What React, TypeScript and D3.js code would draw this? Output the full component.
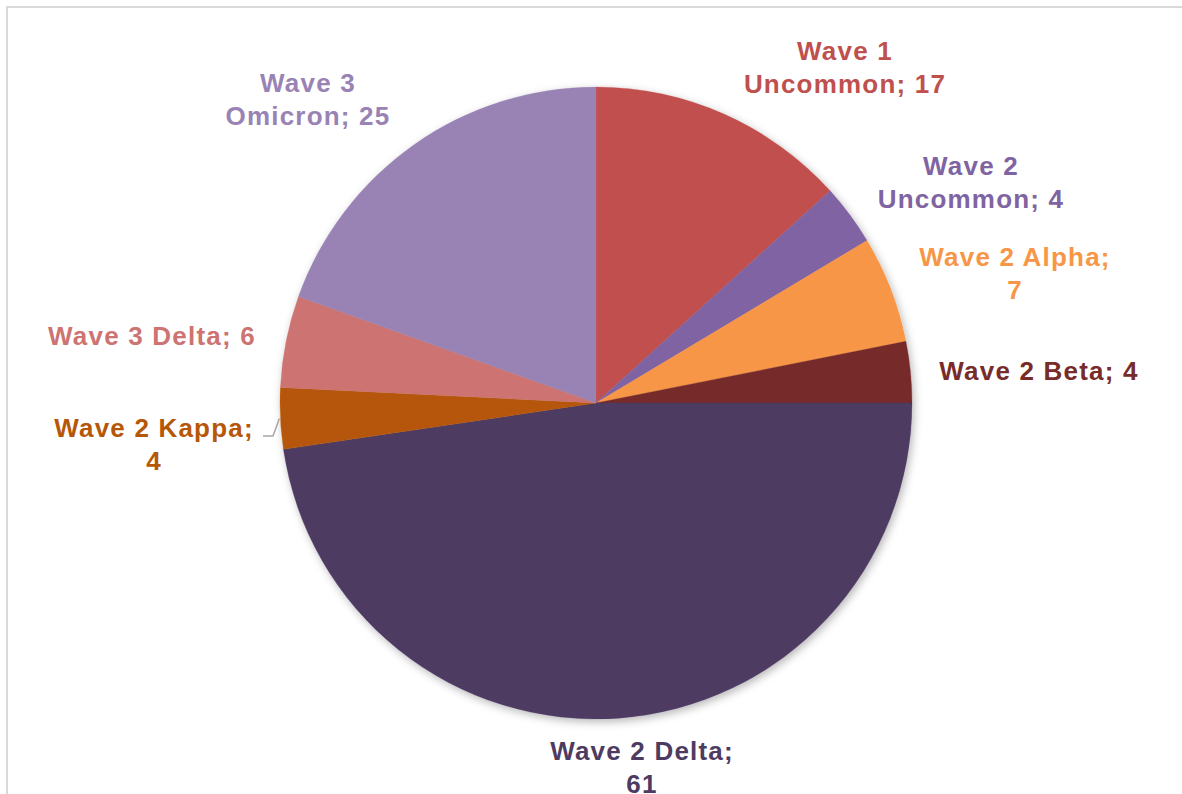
import React from "react";
import * as d3 from "d3";

const categories = [
  "Wave 1 Uncommon",
  "Wave 2 Uncommon",
  "Wave 2 Alpha",
  "Wave 2 Beta",
  "Wave 2 Delta",
  "Wave 2 Kappa",
  "Wave 3 Delta",
  "Wave 3 Omicron",
];
const values = [17, 4, 7, 4, 61, 4, 6, 25];
const labelLines = [
  ["Wave 1", "Uncommon; 17"],
  ["Wave 2", "Uncommon; 4"],
  ["Wave 2 Alpha;", "7"],
  ["Wave 2 Beta; 4"],
  ["Wave 2 Delta;", "61"],
  ["Wave 2 Kappa;", "4"],
  ["Wave 3 Delta; 6"],
  ["Wave 3", "Omicron; 25"],
];
const colors = ["#C0504D", "#8064A2", "#F79646", "#772C2A", "#4D3B62", "#B65708", "#CD7371", "#9983B5"];

// layout: label first-baseline anchors
const labelAnchors: [number, number][] = [
  [845, 60],
  [971, 175],
  [1015, 266],
  [1039, 380],
  [642, 760],
  [154, 437],
  [152, 345],
  [308, 92],
];

const W = 1182;
const H = 794;
const cx = 596;
const cy = 403;
const R = 316;

export default function App() {
  const pie = d3.pie<number>().sort(null).value((d) => d);
  const arcs = pie(values);
  const arcGen = d3.arc<d3.PieArcDatum<number>>().innerRadius(0).outerRadius(R);
  const kappa = arcs[5];
  const kAng = (kappa.startAngle + kappa.endAngle) / 2;
  const kx = cx + Math.sin(kAng) * R;
  const ky = cy - Math.cos(kAng) * R;
  return (
    <svg width={W} height={H} style={{ position: "absolute", left: 0, top: 0 }}>
      <defs>
        <filter id="sh" x="-10%" y="-10%" width="120%" height="120%">
          <feDropShadow dx="2" dy="3" stdDeviation="4" floodColor="#000" floodOpacity="0.28" />
        </filter>
      </defs>
      <rect x={0} y={0} width={W} height={H} fill="#fff" />
      <rect x={7} y={7} width={W + 20} height={H + 20} fill="none" stroke="#D9D9D9" strokeWidth={2} />
      <g transform={`translate(${cx},${cy})`} filter="url(#sh)">
        {arcs.map((a, i) => (
          <path key={categories[i]} d={arcGen(a) || ""} fill={colors[i]} stroke={colors[i]} strokeWidth={0.3} />
        ))}
      </g>
      <polyline
        points={`263,436 273,436 ${kx - 1},${ky}`}
        fill="none"
        stroke="#A6A6A6"
        strokeWidth={1.5}
      />
      {labelLines.map((lines, i) => (
        <text
          key={categories[i]}
          x={labelAnchors[i][0]}
          y={labelAnchors[i][1]}
          textAnchor="middle"
          fill={colors[i]}
          fontFamily="'Liberation Sans', Arial, sans-serif"
          fontWeight="bold"
          fontSize={26}
          letterSpacing={1.2}
        >
          {lines.map((l, j) => (
            <tspan key={j} x={labelAnchors[i][0]} dy={j === 0 ? 0 : 32.5}>
              {l}
            </tspan>
          ))}
        </text>
      ))}
    </svg>
  );
}
